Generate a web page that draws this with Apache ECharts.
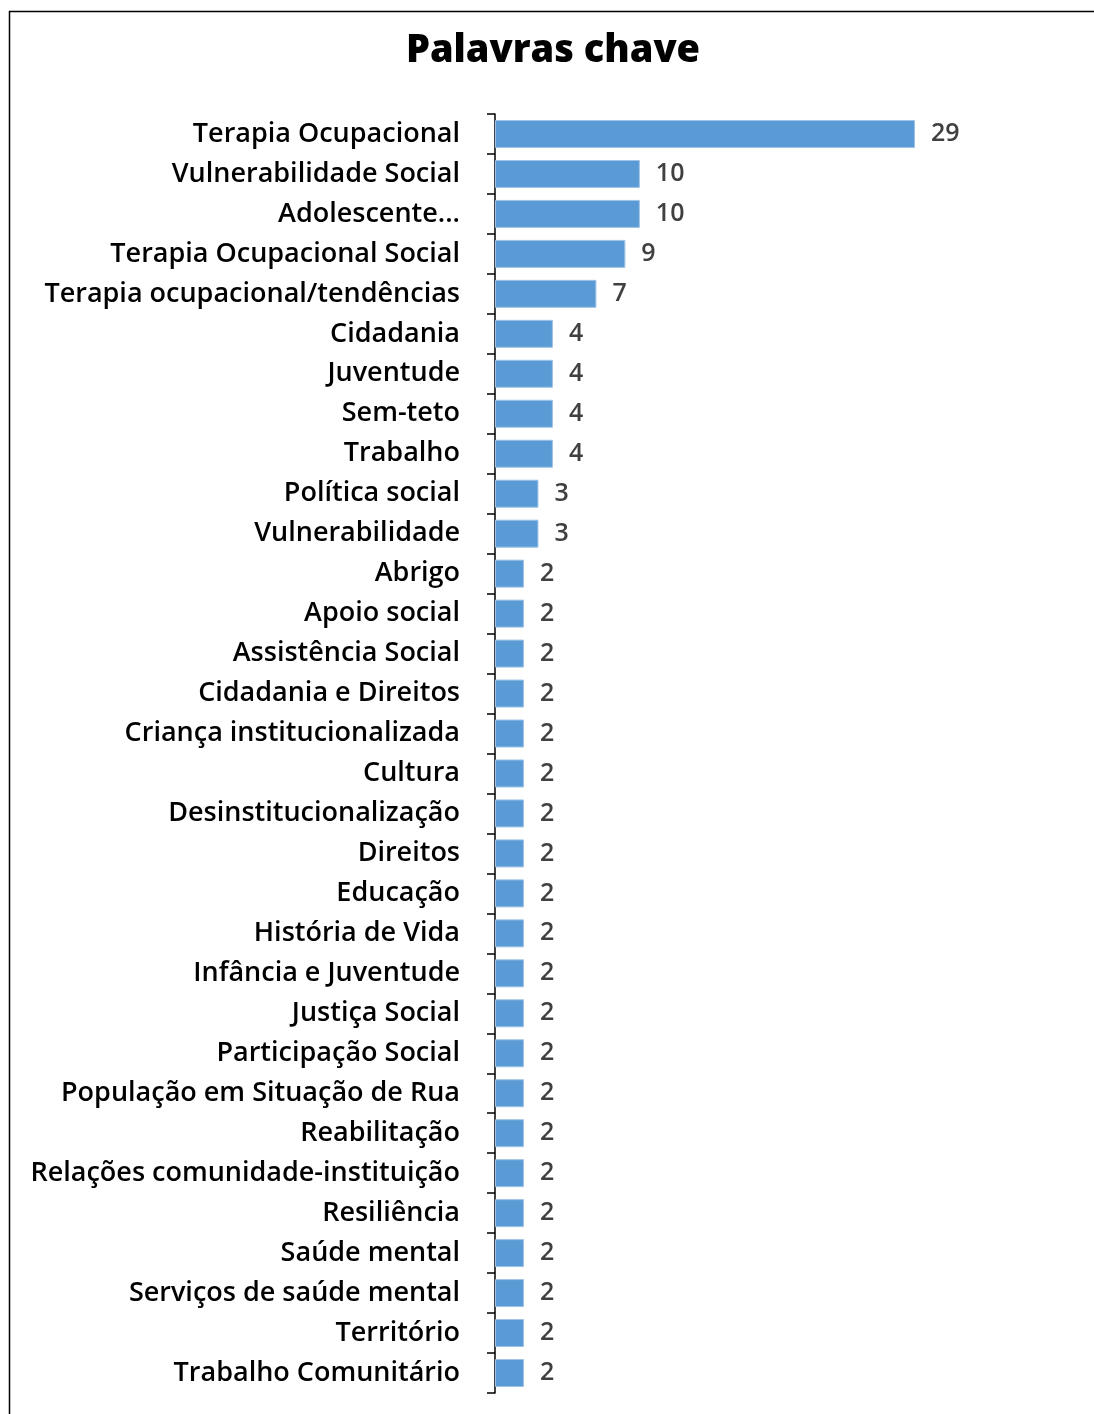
<!DOCTYPE html>
<html><head><meta charset="utf-8">
<script src="https://cdn.jsdelivr.net/npm/echarts@6/dist/echarts.min.js"></script>
<style>html,body{margin:0;padding:0;background:#fff}#c{width:1094px;height:1414px}</style>
</head><body><div id="c"></div>
<script>
const categories = ["Terapia Ocupacional","Vulnerabilidade Social","Adolescente...","Terapia Ocupacional Social","Terapia ocupacional/tendências","Cidadania","Juventude","Sem-teto","Trabalho","Política social","Vulnerabilidade","Abrigo","Apoio social","Assistência Social","Cidadania e Direitos","Criança institucionalizada","Cultura","Desinstitucionalização","Direitos","Educação","História de Vida","Infância e Juventude","Justiça Social","Participação Social","População em Situação de Rua","Reabilitação","Relações comunidade-instituição","Resiliência","Saúde mental","Serviços de saúde mental","Território","Trabalho Comunitário"];
const values = [29,10,10,9,7,4,4,4,4,3,3,2,2,2,2,2,2,2,2,2,2,2,2,2,2,2,2,2,2,2,2,2];
const titleText = "Palavras chave";

const chart = echarts.init(document.getElementById('c'));
chart.setOption({
  animation:false,
  backgroundColor:'#fff',
  title:{text:titleText,left:548,top:27,textAlign:'center',
    textStyle:{fontFamily:'Open Sans',fontWeight:800,fontSize:38,color:'#000'}},
  graphic:[{type:'rect',shape:{x:9.5,y:11.5,width:1200,height:1500},style:{fill:'none',stroke:'#000',lineWidth:1.5},silent:true}],
  grid:{left:495,top:114,width:434.5,height:1279,containLabel:false},
  xAxis:{type:'value',min:0,max:30,show:false},
  yAxis:{type:'category',data:categories,inverse:true,
    axisLine:{show:true,lineStyle:{color:'#000',width:1.5}},
    axisTick:{show:true,length:8,lineStyle:{color:'#000',width:1.5}},
    axisLabel:{margin:35,fontFamily:'Open Sans',fontSize:27,color:'#000',fontWeight:600,lineHeight:32,padding:[6,0,0,0]}},
  series:[{type:'bar',data:values,barCategoryGap:'30%',
    itemStyle:{color:'#5B9BD5',borderColor:'#9DC3E6',borderWidth:1},
    label:{show:true,position:'right',distance:16,fontFamily:'Open Sans',fontSize:25,color:'#404040',fontWeight:600,lineHeight:30,padding:[6,0,0,0]}}]
});
</script></body></html>
